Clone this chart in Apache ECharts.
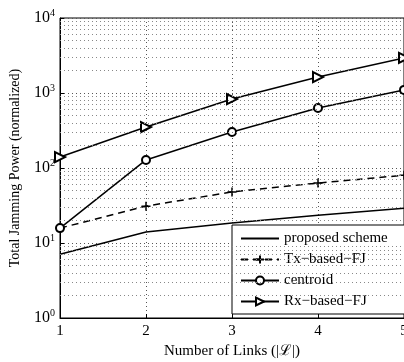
<!DOCTYPE html>
<html>
<head>
<meta charset="utf-8">
<script src="https://cdn.jsdelivr.net/npm/echarts@6/dist/echarts.min.js"></script>
<style>
  html, body { margin: 0; padding: 0; background: #fff; }
  #chart { width: 404px; height: 362px; }
</style>
</head>
<body>
<div id="chart"></div>
<script>
// values
var links = [1, 2, 3, 4, 5]
var proposed = [7.1, 14, 18.5, 23.5, 29]
var txFJ = [15.8, 31, 48, 63, 80]
var centroid = [15.8, 128, 302, 630, 1100]
var rxFJ = [140, 352, 830, 1630, 2940]

var font = 'Liberation Serif'

function pairs(ys) {
  return links.map(function(x, i) { return [x, ys[i]] })
}

// dotted minor grid lines at 2..9 x 10^k
var minorLines = []
for (var k = 0; k < 4; k++) {
  for (var m = 2; m <= 9; m++) minorLines.push({ yAxis: m * Math.pow(10, k) })
}

var chart = echarts.init(document.getElementById('chart'))
chart.setOption({
  animation: false,
  backgroundColor: '#fff',
  grid: {
    left: 60, right: 0, top: 18, bottom: 44,
    outerBoundsMode: 'none', containLabel: false,
    show: true, borderColor: '#000', borderWidth: 1
  },
  legend: {
    orient: 'vertical',
    left: 232, top: 225,
    width: 180,
    padding: [6, 30, 5, 8],
    itemGap: 6,
    itemWidth: 38, itemHeight: 10,
    backgroundColor: '#fff',
    borderColor: '#000', borderWidth: 1,
    borderRadius: 0,
    textStyle: { fontFamily: font, fontSize: 15, color: '#000' },
    data: [
      { name: 'proposed scheme', itemStyle: { opacity: 0 } },
      'Tx\u2212based\u2212FJ', 'centroid', 'Rx\u2212based\u2212FJ'
    ]
  },
  xAxis: {
    type: 'value', min: 1, max: 5, interval: 1,
    name: 'Number of Links (|\u2112|)', nameLocation: 'middle', nameGap: 22,
    nameTextStyle: { fontFamily: font, fontSize: 15, color: '#000' },
    axisLine: { lineStyle: { color: '#000' } },
    axisTick: { inside: true, length: 4, lineStyle: { color: '#000' } },
    axisLabel: { fontFamily: font, fontSize: 15, color: '#000', margin: 6, showMaxLabel: true },
    splitLine: { show: true, lineStyle: { color: '#555', type: [1, 3], width: 1 } }
  },
  yAxis: {
    type: 'log', min: 1, max: 10000, logBase: 10,
    name: 'Total Jamming Power (normalized)', nameLocation: 'middle', nameGap: 38,
    nameTextStyle: { fontFamily: font, fontSize: 14, color: '#000' },
    axisLine: { lineStyle: { color: '#000' } },
    axisTick: { inside: true, length: 4, lineStyle: { color: '#000' } },
    axisLabel: {
      margin: 5,
      formatter: function(v) { return '{b|10}{s|' + Math.round(Math.log10(v)) + '}' },
      rich: {
        b: { fontFamily: font, fontSize: 16, color: '#000' },
        s: { fontFamily: font, fontSize: 10, color: '#000', verticalAlign: 'top', padding: [0, 0, 10, 0] }
      }
    },
    splitLine: { show: true, lineStyle: { color: '#555', type: [1, 3], width: 1 } }
  },
  series: [
    {
      name: 'proposed scheme', type: 'line', data: pairs(proposed),
      symbol: 'none', z: 3,
      lineStyle: { color: '#000', width: 1.5 }, itemStyle: { color: '#000' }
    },
    {
      name: 'Tx\u2212based\u2212FJ', type: 'line', data: pairs(txFJ),
      symbol: 'path://M5,0L5,10M0,5L10,5', symbolSize: 9, clip: false, z: 3,
      lineStyle: { color: '#000', width: 1.5, type: [7, 5] },
      itemStyle: { color: 'none', borderColor: '#000', borderWidth: 1.5 }
    },
    {
      name: 'centroid', type: 'line', data: pairs(centroid),
      symbol: 'emptyCircle', symbolSize: 8, clip: false, z: 3,
      lineStyle: { color: '#000', width: 1.5 },
      itemStyle: { color: '#000', borderWidth: 1.5 }
    },
    {
      name: 'Rx\u2212based\u2212FJ', type: 'line', data: pairs(rxFJ),
      symbol: 'emptyTriangle', symbolRotate: -90, symbolSize: 10, clip: false, z: 3,
      lineStyle: { color: '#000', width: 1.5 },
      itemStyle: { color: '#000', borderWidth: 1.5 }
    },
    {
      type: 'line', data: [], silent: true, z: 1,
      markLine: {
        symbol: 'none', silent: true, label: { show: false },
        lineStyle: { color: '#888', type: [1, 3], width: 1 },
        data: minorLines
      }
    }
  ]
})
</script>
</body>
</html>
